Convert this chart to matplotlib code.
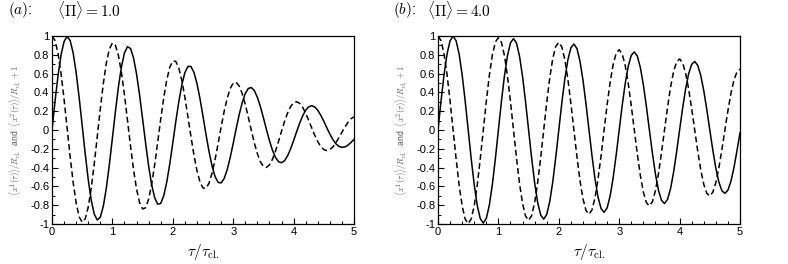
import matplotlib
matplotlib.use("Agg")
import matplotlib.pyplot as plt
from matplotlib.ticker import MultipleLocator, FixedLocator, FixedFormatter

plt.rcParams['mathtext.fontset'] = 'cm'
plt.rcParams['axes.unicode_minus'] = False
plt.rcParams['font.family'] = ['Liberation Sans', 'DejaVu Sans']

tau = [0.00, 0.05, 0.10, 0.15, 0.20, 0.25, 0.30, 0.35, 0.40, 0.45,
       0.50, 0.55, 0.60, 0.65, 0.70, 0.75, 0.80, 0.85, 0.90, 0.95,
       1.00, 1.05, 1.10, 1.15, 1.20, 1.25, 1.30, 1.35, 1.40, 1.45,
       1.50, 1.55, 1.60, 1.65, 1.70, 1.75, 1.80, 1.85, 1.90, 1.95,
       2.00, 2.05, 2.10, 2.15, 2.20, 2.25, 2.30, 2.35, 2.40, 2.45,
       2.50, 2.55, 2.60, 2.65, 2.70, 2.75, 2.80, 2.85, 2.90, 2.95,
       3.00, 3.05, 3.10, 3.15, 3.20, 3.25, 3.30, 3.35, 3.40, 3.45,
       3.50, 3.55, 3.60, 3.65, 3.70, 3.75, 3.80, 3.85, 3.90, 3.95,
       4.00, 4.05, 4.10, 4.15, 4.20, 4.25, 4.30, 4.35, 4.40, 4.45,
       4.50, 4.55, 4.60, 4.65, 4.70, 4.75, 4.80, 4.85, 4.90, 4.95,
       5.00]

# panel (a): <Pi> = 1.0
x1_a = [0.000, 0.305, 0.580, 0.799, 0.942, 0.995, 0.953, 0.820, 0.610, 0.343,
        0.046, -0.254, -0.528, -0.748, -0.896, -0.957, -0.927, -0.809, -0.616, -0.367,
        -0.086, 0.198, 0.460, 0.673, 0.820, 0.886, 0.867, 0.767, 0.596, 0.372,
        0.118, -0.142, -0.383, -0.582, -0.721, -0.789, -0.781, -0.699, -0.554, -0.360,
        -0.138, 0.091, 0.304, 0.483, 0.610, 0.676, 0.676, 0.613, 0.494, 0.333,
        0.146, -0.048, -0.230, -0.384, -0.496, -0.557, -0.563, -0.517, -0.423, -0.294,
        -0.143, 0.016, 0.166, 0.293, 0.388, 0.442, 0.452, 0.419, 0.348, 0.249,
        0.131, 0.006, -0.113, -0.215, -0.291, -0.337, -0.348, -0.327, -0.275, -0.202,
        -0.113, -0.019, 0.072, 0.150, 0.210, 0.247, 0.258, 0.245, 0.210, 0.157,
        0.093, 0.024, -0.043, -0.101, -0.146, -0.174, -0.184, -0.180, -0.162, -0.133,
        -0.100]
x2_a = [1.000, 0.952, 0.814, 0.598, 0.326, 0.023, -0.280, -0.556, -0.777, -0.924,
        -0.981, -0.945, -0.819, -0.617, -0.357, -0.067, 0.227, 0.495, 0.714, 0.861,
        0.926, 0.901, 0.792, 0.609, 0.372, 0.103, -0.170, -0.422, -0.629, -0.773,
        -0.840, -0.827, -0.736, -0.577, -0.368, -0.129, 0.116, 0.343, 0.533, 0.667,
        0.734, 0.730, 0.658, 0.526, 0.348, 0.143, -0.068, -0.266, -0.433, -0.553,
        -0.617, -0.620, -0.565, -0.459, -0.314, -0.145, 0.031, 0.197, 0.337, 0.441,
        0.498, 0.507, 0.467, 0.386, 0.272, 0.137, -0.003, -0.138, -0.252, -0.338,
        -0.388, -0.398, -0.372, -0.311, -0.225, -0.122, -0.013, 0.091, 0.181, 0.249,
        0.290, 0.301, 0.284, 0.241, 0.179, 0.103, 0.022, -0.056, -0.124, -0.176,
        -0.208, -0.219, -0.209, -0.180, -0.136, -0.082, -0.024, 0.032, 0.081, 0.120,
        0.140]

# panel (b): <Pi> = 4.0
x1_b = [0.000, 0.309, 0.588, 0.809, 0.950, 0.999, 0.949, 0.807, 0.586, 0.308,
        0.000, -0.307, -0.584, -0.803, -0.943, -0.990, -0.940, -0.799, -0.580, -0.304,
        0.000, 0.303, 0.576, 0.790, 0.927, 0.973, 0.923, 0.784, 0.568, 0.298,
        0.000, -0.296, -0.562, -0.771, -0.904, -0.948, -0.899, -0.762, -0.552, -0.289,
        0.000, 0.287, 0.544, 0.746, 0.874, 0.915, 0.867, 0.734, 0.532, 0.278,
        0.000, -0.276, -0.522, -0.715, -0.837, -0.876, -0.829, -0.702, -0.508, -0.265,
        0.000, 0.263, 0.497, 0.680, 0.795, 0.831, 0.786, 0.665, 0.480, 0.251,
        0.000, -0.248, -0.469, -0.641, -0.748, -0.782, -0.739, -0.624, -0.451, -0.235,
        0.000, 0.232, 0.438, 0.599, 0.698, 0.729, 0.688, 0.581, 0.419, 0.219,
        0.000, -0.215, -0.406, -0.554, -0.646, -0.674, -0.640, -0.545, -0.400, -0.220,
        -0.030]
x2_b = [1.000, 0.951, 0.809, 0.588, 0.309, 0.000, -0.309, -0.587, -0.807, -0.948,
        -0.996, -0.946, -0.804, -0.584, -0.306, 0.000, 0.306, 0.581, 0.798, 0.936,
        0.983, 0.933, 0.792, 0.575, 0.301, 0.000, -0.300, -0.570, -0.782, -0.917,
        -0.961, -0.912, -0.774, -0.561, -0.294, 0.000, 0.292, 0.554, 0.760, 0.890,
        0.932, 0.884, 0.749, 0.542, 0.284, 0.000, -0.282, -0.534, -0.731, -0.856,
        -0.896, -0.849, -0.719, -0.520, -0.272, 0.000, 0.269, 0.510, 0.698, 0.817,
        0.854, 0.808, 0.684, 0.494, 0.258, 0.000, -0.255, -0.483, -0.661, -0.772,
        -0.807, -0.763, -0.645, -0.466, -0.243, 0.000, 0.240, 0.454, 0.620, 0.724,
        0.756, 0.714, 0.603, 0.435, 0.227, 0.000, -0.224, -0.422, -0.577, -0.673,
        -0.702, -0.662, -0.559, -0.403, -0.210, 0.000, 0.206, 0.390, 0.531, 0.619,
        0.646]

panel_tags = [r"$(a)$:", r"$(b)$:"]
panel_pis = [r"$\langle\Pi\rangle = 1.0$", r"$\langle\Pi\rangle = 4.0$"]
xtick_vals = [0, 1, 2, 3, 4, 5]
xtick_labels = ["0", "1", "2", "3", "4", "5"]
ytick_vals = [-1, -0.8, -0.6, -0.4, -0.2, 0, 0.2, 0.4, 0.6, 0.8, 1]
ytick_labels = ["-1", "-0.8", "-0.6", "-0.4", "-0.2", "0", "0.2", "0.4", "0.6", "0.8", "1"]

W, H = 788, 264
fig = plt.figure(figsize=(W / 100, H / 100), dpi=100)

panels = [(x1_a, x2_a), (x1_b, x2_b)]
lefts = [52, 438]
tag_x = [8, 393]
pi_x = [57, 427]

for i, (s1, s2) in enumerate(panels):
    ax = fig.add_axes([lefts[i] / W, (H - 224) / H, 302 / W, 188 / H])
    ax.plot(tau, s1, color='black', lw=1.1, solid_joinstyle='round')
    ax.plot(tau, s2, color='black', lw=1.1, dashes=(3.8, 2.2))
    ax.set_xlim(0, 5)
    ax.set_ylim(-1, 1)
    ax.xaxis.set_major_locator(FixedLocator(xtick_vals))
    ax.xaxis.set_major_formatter(FixedFormatter(xtick_labels))
    ax.yaxis.set_major_locator(FixedLocator(ytick_vals))
    ax.yaxis.set_major_formatter(FixedFormatter(ytick_labels))
    ax.xaxis.set_minor_locator(MultipleLocator(0.2))
    ax.yaxis.set_minor_locator(MultipleLocator(0.1))
    ax.tick_params(which='both', direction='in', top=False, right=False,
                   labelsize=8, colors='black', pad=2)
    ax.tick_params(which='major', length=4, width=0.8)
    ax.tick_params(which='minor', length=2.5, width=0.7)
    for sp in ax.spines.values():
        sp.set_linewidth(0.9)
    ax.set_xlabel(r"$\tau/\tau_{\rm cl.}$", fontsize=11, labelpad=4)
    ax.set_ylabel(r"$\langle x^1(\tau)\rangle/R_{\rm cl.}$  and  $\langle x^2(\tau)\rangle/R_{\rm cl.}+1$",
                  fontsize=6.2, color='#555555', labelpad=5)
    fig.text(tag_x[i] / W, 1 - 10 / H, panel_tags[i], fontsize=11, va='center', ha='left')
    fig.text(pi_x[i] / W, 1 - 10 / H, panel_pis[i], fontsize=11, va='center', ha='left')

fig.savefig("out.png", dpi=100)
